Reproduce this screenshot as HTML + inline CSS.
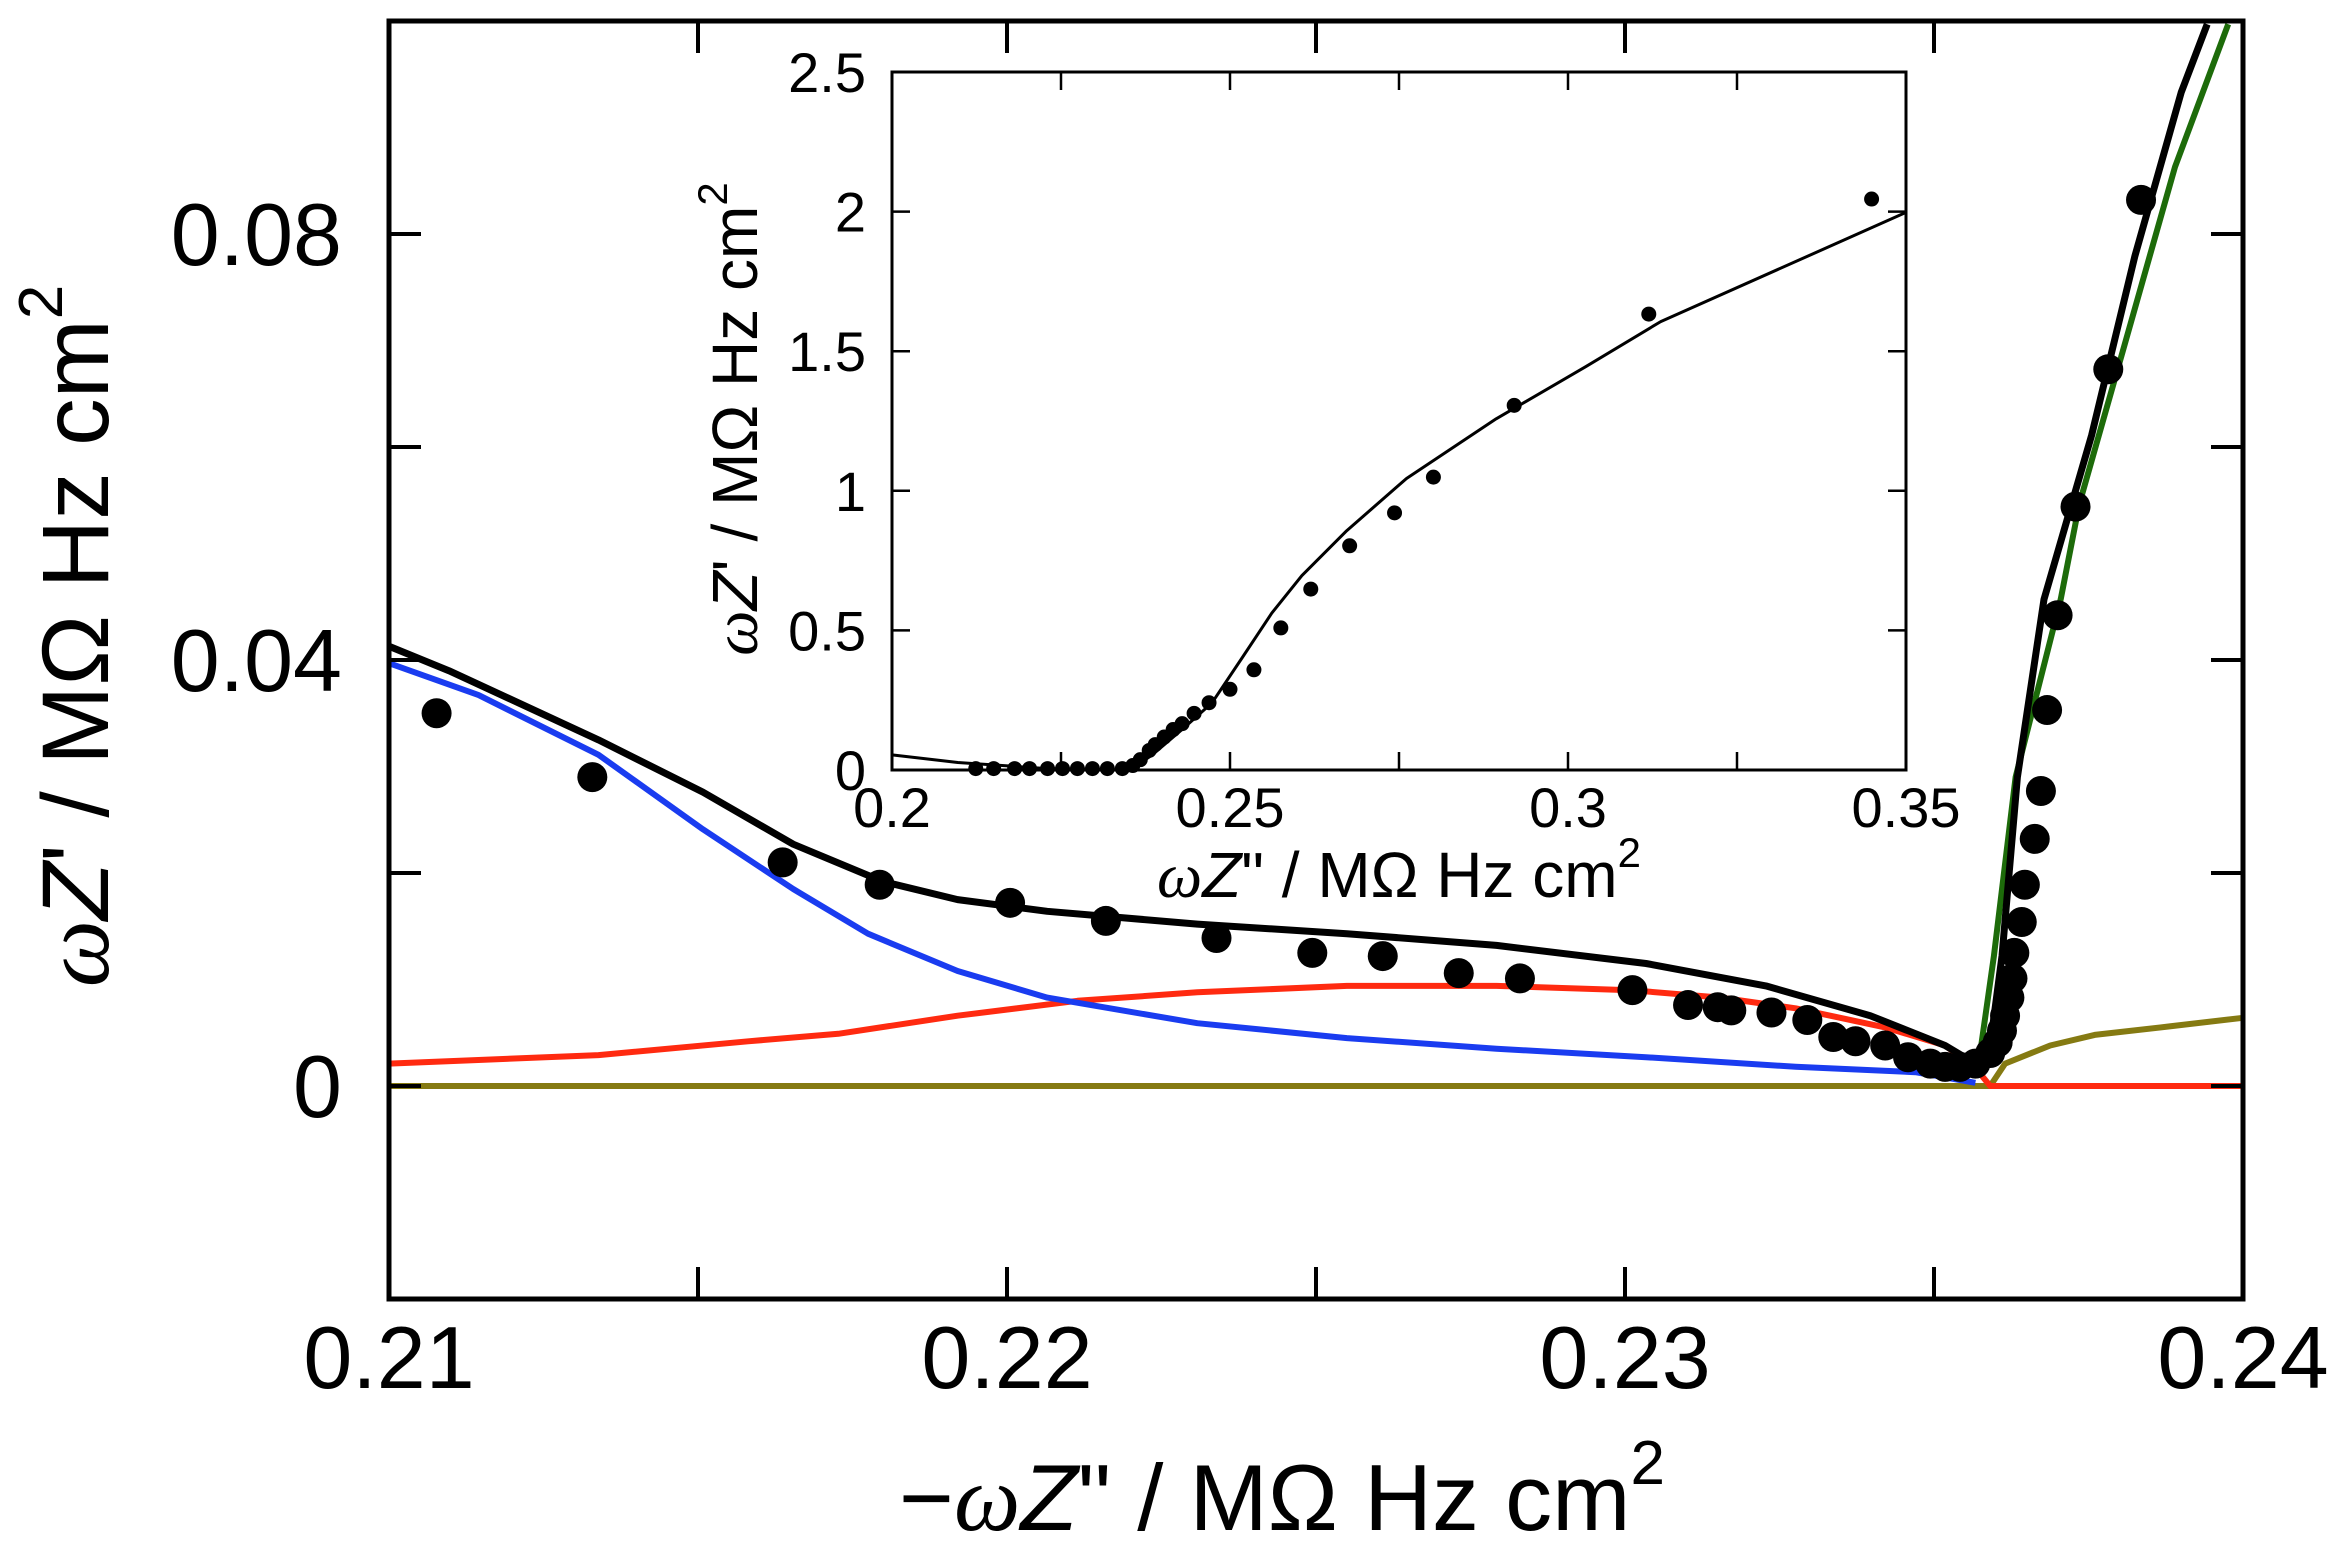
<!DOCTYPE html>
<html><head><meta charset="utf-8"><style>
html,body{margin:0;padding:0;background:#fff;}
svg{display:block;font-family:"Liberation Sans",sans-serif;}
</style></head><body>
<svg id="chart" width="2346" height="1561" viewBox="0 0 2346 1561" xmlns="http://www.w3.org/2000/svg"></svg>
<script>
// ---- main chart data ----
const mainXTicks=[0.21,0.215,0.22,0.225,0.23,0.235,0.24];
const mainXLabels=["0.21","0.22","0.23","0.24"];
const mainYTicks=[-0.02,0,0.02,0.04,0.06,0.08,0.1];
const mainYLabels=["0","0.04","0.08"];
const dotX=[0.21077,0.21329,0.21637,0.21794,0.22005,0.22160,0.22339,0.22494,0.22608,0.22731,0.22830,0.23012,0.23102,0.23150,0.23172,0.23237,0.23295,0.23337,0.23373,0.23421,0.23458,0.23494,0.23518,0.23542,0.23567,0.23591,0.23603,0.23610,0.23615,0.23622,0.23627,0.23630,0.23642,0.23647,0.23663,0.23673,0.23683,0.23700,0.23729,0.23782,0.23835];
const dotY=[0.0350,0.0290,0.0210,0.0189,0.0172,0.0155,0.0139,0.0125,0.0122,0.0106,0.0101,0.0090,0.0076,0.0074,0.0071,0.0069,0.0062,0.0046,0.0042,0.0038,0.0027,0.0021,0.0018,0.0018,0.0021,0.0031,0.0041,0.0052,0.0066,0.0083,0.0101,0.0125,0.0154,0.0189,0.0232,0.0277,0.0353,0.0442,0.0544,0.0673,0.0832];
const blackX=[0.21,0.21097,0.21339,0.21508,0.21654,0.21799,0.21920,0.22065,0.22308,0.22550,0.22792,0.23034,0.23228,0.23397,0.23518,0.23567,0.23591,0.23610,0.23635,0.23678,0.23755,0.23825,0.23900,0.23942];
const blackY=[0.0413,0.0390,0.0325,0.0276,0.0227,0.0192,0.0175,0.0164,0.0152,0.0143,0.0132,0.0115,0.0094,0.0066,0.0038,0.0021,0.0038,0.0122,0.0290,0.0457,0.0611,0.0779,0.0933,0.0997];
const greenX=[0.23573,0.23597,0.23632,0.23705,0.23735,0.23808,0.23890,0.23976];
const greenY=[0.0024,0.0122,0.0290,0.0457,0.0546,0.0695,0.0863,0.0997];
const blueX=[0.21,0.21145,0.21339,0.21508,0.21654,0.21775,0.21920,0.22065,0.22308,0.22550,0.22792,0.23034,0.23276,0.23470,0.23567];
const blueY=[0.0397,0.0367,0.0311,0.0241,0.0185,0.0143,0.0108,0.0083,0.0059,0.0045,0.0035,0.0027,0.0018,0.0013,0.0003];
const redX=[0.21,0.21339,0.21581,0.21727,0.21920,0.22114,0.22308,0.22550,0.22792,0.23010,0.23155,0.23276,0.23421,0.23518,0.23567,0.23591,0.24];
const redY=[0.0021,0.0029,0.0042,0.0049,0.0066,0.0080,0.0088,0.0094,0.0094,0.0090,0.0083,0.0073,0.0055,0.0038,0.0017,0,0];
const oliveX=[0.21,0.23591,0.23615,0.23688,0.23760,0.23881,0.24];
const oliveY=[0,0,0.0021,0.0038,0.0048,0.0056,0.0064];
// ---- inset data ----
const insXTicks=[0.2,0.225,0.25,0.275,0.3,0.325,0.35];
const insXLabels=["0.2","0.25","0.3","0.35"];
const insYTicks=[0,0.5,1,1.5,2,2.5];
const insYLabels=["0","0.5","1","1.5","2","2.5"];
const insDotX=[0.21239,0.21504,0.21814,0.22035,0.22301,0.22522,0.22743,0.22965,0.23186,0.23407,0.23562,0.23673,0.23805,0.23894,0.24027,0.24159,0.24292,0.24469,0.24690,0.25000,0.25354,0.25752,0.26195,0.26770,0.27434,0.28009,0.29204,0.31195,0.34491];
const insDotY=[0.005,0.005,0.005,0.005,0.005,0.005,0.005,0.005,0.005,0.005,0.016,0.037,0.070,0.091,0.118,0.145,0.166,0.203,0.241,0.289,0.359,0.509,0.648,0.803,0.921,1.049,1.306,1.633,2.045];
const insLineX=[0.2,0.20973,0.22301,0.23518,0.23850,0.24292,0.24735,0.25177,0.25619,0.26062,0.26726,0.27611,0.28938,0.30265,0.31372,0.35];
const insLineY=[0.054,0.027,0.005,0,0.054,0.145,0.241,0.401,0.562,0.696,0.857,1.044,1.258,1.445,1.606,1.997];

const NS="http://www.w3.org/2000/svg";
const svg=document.getElementById('chart');
function el(tag,attrs,parent){const e=document.createElementNS(NS,tag);for(const k in attrs)e.setAttribute(k,attrs[k]);(parent||svg).appendChild(e);return e;}

const M={l:389,r:2243,t:21,b:1299,x0:0.21,x1:0.24,y0:-0.02,y1:0.1};
const mx=v=>M.l+(v-M.x0)/(M.x1-M.x0)*(M.r-M.l);
const my=v=>M.b-(v-M.y0)/(M.y1-M.y0)*(M.b-M.t);
const I={l:892,r:1906,t:72,b:770,x0:0.2,x1:0.35,y0:0,y1:2.5};
const ix=v=>I.l+(v-I.x0)/(I.x1-I.x0)*(I.r-I.l);
const iy=v=>I.b-(v-I.y0)/(I.y1-I.y0)*(I.b-I.t);

function path(xs,ys,fx,fy){return xs.map((x,i)=>(i?'L':'M')+fx(x).toFixed(1)+' '+fy(ys[i]).toFixed(1)).join(' ');}

const gMain=el('g',{});


const zl=el('line',{x1:M.l,x2:M.r,y1:my(0),y2:my(0),stroke:'#000','stroke-width':3},gMain);



function addLine(xs,ys,color,name,w,g,fx,fy){
  const p=el('path',{d:path(xs,ys,fx,fy),fill:'none',stroke:color,'stroke-width':w,'stroke-linejoin':'round'},g);
  
  
}
addLine(oliveX,oliveY,'#857a12','olive-line',6,gMain,mx,my);
addLine(redX,redY,'#ff2a10','red-line',6,gMain,mx,my);
addLine(blueX,blueY,'#1a3cf0','blue-line',6,gMain,mx,my);
addLine(greenX,greenY,'#1d6b0a','green-line',6,gMain,mx,my);
addLine(blackX,blackY,'#000','black-fit-line',7,gMain,mx,my);
dotX.forEach((x,i)=>{
  const c=el('circle',{cx:mx(x),cy:my(dotY[i]),r:15,fill:'#000'},gMain);
  
  
});
const fr=el('rect',{x:M.l,y:M.t,width:M.r-M.l,height:M.b-M.t,fill:'none',stroke:'#000','stroke-width':5},gMain);


mainXTicks.forEach(v=>{
  const t1=el('line',{x1:mx(v),x2:mx(v),y1:M.b,y2:M.b-32,stroke:'#000','stroke-width':4},gMain);
  
  
  const t2=el('line',{x1:mx(v),x2:mx(v),y1:M.t,y2:M.t+32,stroke:'#000','stroke-width':4},gMain);
  
  
});
mainYTicks.forEach(v=>{
  const t1=el('line',{x1:M.l,x2:M.l+32,y1:my(v),y2:my(v),stroke:'#000','stroke-width':4},gMain);
  
  
  const t2=el('line',{x1:M.r,x2:M.r-32,y1:my(v),y2:my(v),stroke:'#000','stroke-width':4},gMain);
  
  
});
mainXLabels.forEach(s=>{
  const t=el('text',{x:mx(parseFloat(s)),y:1388,'text-anchor':'middle','font-size':88},gMain);
  t.textContent=s;
  
  
});
mainYLabels.forEach(s=>{
  const t=el('text',{x:342,y:my(parseFloat(s))+31,'text-anchor':'end','font-size':88},gMain);
  t.textContent=s;
  
  
});

const gIns=el('g',{});


const ibg=el('rect',{x:I.l,y:I.t,width:I.r-I.l,height:I.b-I.t,fill:'#fff',stroke:'none'},gIns);


addLine(insLineX,insLineY,'#000','inset-fit-line',3,gIns,ix,iy);
insDotX.forEach((x,i)=>{
  const c=el('circle',{cx:ix(x),cy:iy(insDotY[i]),r:7.5,fill:'#000'},gIns);
  
  
});
const ifr=el('rect',{x:I.l,y:I.t,width:I.r-I.l,height:I.b-I.t,fill:'none',stroke:'#000','stroke-width':3},gIns);


insXTicks.forEach(v=>{
  const t1=el('line',{x1:ix(v),x2:ix(v),y1:I.b,y2:I.b-18,stroke:'#000','stroke-width':2.5},gIns);
  
  
  const t2=el('line',{x1:ix(v),x2:ix(v),y1:I.t,y2:I.t+18,stroke:'#000','stroke-width':2.5},gIns);
  
  
});
insYTicks.forEach(v=>{
  const t1=el('line',{x1:I.l,x2:I.l+18,y1:iy(v),y2:iy(v),stroke:'#000','stroke-width':2.5},gIns);
  
  
  const t2=el('line',{x1:I.r,x2:I.r-18,y1:iy(v),y2:iy(v),stroke:'#000','stroke-width':2.5},gIns);
  
  
});
insXLabels.forEach(s=>{
  const t=el('text',{x:ix(parseFloat(s)),y:827,'text-anchor':'middle','font-size':56},gIns);
  t.textContent=s;
  
  
});
insYLabels.forEach(s=>{
  const t=el('text',{x:866,y:iy(parseFloat(s))+20,'text-anchor':'end','font-size':56},gIns);
  t.textContent=s;
  
  
});
</script>
<svg style="position:absolute;left:0;top:0" width="2346" height="1561" xmlns="http://www.w3.org/2000/svg">
<g font-family="Liberation Sans, sans-serif">
<text x="1282" y="1530" text-anchor="middle" font-size="94">−<tspan font-family="Liberation Serif, serif" font-style="italic">ω</tspan><tspan font-style="italic">Z</tspan>" / MΩ Hz cm<tspan dy="-46" font-size="62">2</tspan></text>
<text transform="translate(108,636) rotate(-90)" text-anchor="middle" font-size="95"><tspan font-family="Liberation Serif, serif" font-style="italic">ω</tspan><tspan font-style="italic">Z</tspan>' / MΩ Hz cm<tspan dy="-46" font-size="62">2</tspan></text>
<text x="1399" y="897" text-anchor="middle" font-size="64"><tspan font-family="Liberation Serif, serif" font-style="italic">ω</tspan><tspan font-style="italic">Z</tspan>" / MΩ Hz cm<tspan dy="-30" font-size="42">2</tspan></text>
<text transform="translate(757,419) rotate(-90)" text-anchor="middle" font-size="64"><tspan font-family="Liberation Serif, serif" font-style="italic">ω</tspan><tspan font-style="italic">Z</tspan>' / MΩ Hz cm<tspan dy="-30" font-size="42">2</tspan></text>
</g>
</svg>
</body></html>
